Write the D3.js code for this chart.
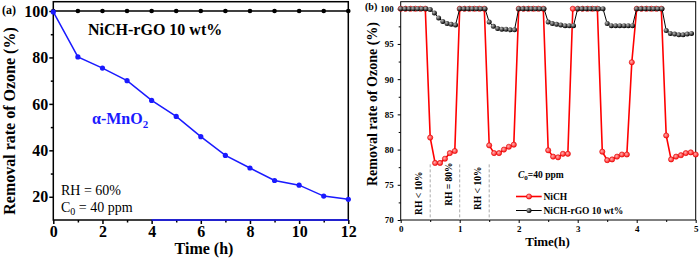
<!DOCTYPE html>
<html><head><meta charset="utf-8">
<script src="https://cdn.jsdelivr.net/npm/d3@7"></script>
<style>body{margin:0;background:#fff}svg{display:block}text{font-family:"Liberation Serif","Times New Roman",serif}</style>
</head><body><svg id="c" width="699" height="261"></svg>
<script>
// ---------- Panel (a) data ----------
const hoursA = [0,1,2,3,4,5,6,7,8,9,10,11,12];
const mno2 = [99.6,80.2,75.4,70.0,61.5,54.6,45.9,37.8,32.4,27.0,25.0,20.3,18.9];
const nichRgoA = [100,100,100,100,100,100,100,100,100,100,100,100,100];
const xTicksA = [0,2,4,6,8,10,12];
const xMinorA = [1,3,5,7,9,11];
const yTicksA = [20,40,60,80,100];
const yMinorA = [30,50,70,90];

// ---------- Panel (b) data ----------
const timeRgo = [0,0.071,0.143,0.214,0.286,0.357,0.429,0.5,0.571,0.643,0.714,0.786,0.857,0.929,
  1,1.071,1.143,1.214,1.286,1.357,1.429,1.5,1.571,1.643,1.714,1.786,1.857,1.929,
  2,2.071,2.143,2.214,2.286,2.357,2.429,2.5,2.571,2.643,2.714,2.786,2.857,2.929,
  3,3.071,3.143,3.214,3.286,3.357,3.429,3.5,3.571,3.643,3.714,3.786,3.857,3.929,
  4,4.071,4.143,4.214,4.286,4.357,4.429,4.5,4.571,4.643,4.714,4.786,4.857,4.929];
const nichRgoB = [100,100,100,100,100,100,100, 99.9,99.4,98.7,98.2,97.9,97.8,97.7,
  100,100,100,100,100,100,100, 98.1,97.5,97.2,97.1,97.1,97.0,97.0,
  100,100,100,100,100,100,100, 98.1,97.9,97.8,97.7,97.6,97.6,97.6,
  100,100,100,100,100,100,100, 97.9,97.6,97.6,97.6,97.6,97.6,97.6,
  100,100,100,100,100,100,100, 96.9,96.5,96.4,96.3,96.3,96.4,96.5];
const timeNich = [0,0.083,0.167,0.25,0.333,0.417,0.5,0.583,0.667,0.75,0.833,0.917,
  1,1.083,1.167,1.25,1.333,1.417,1.5,1.583,1.667,1.75,1.833,1.917,
  2,2.083,2.167,2.25,2.333,2.417,2.5,2.583,2.667,2.75,2.833,2.917,
  3,3.083,3.167,3.25,3.333,3.417,3.5,3.583,3.667,3.75,3.833,3.917,
  4,4.083,4.167,4.25,4.333,4.417,4.5,4.583,4.667,4.75,4.833,4.917,5];
const nichB = [100,100,100,100,100,100, 81.7,78.1,78.1,78.7,79.5,79.8,
  100,100,100,100,100,100, 80.6,79.5,79.5,80.0,80.4,80.7,
  100,100,100,100,100,100, 79.9,79.0,78.9,79.4,79.4, 100,
  100,100,100,100,100, 79.7,78.5,78.6,79.0,79.3,79.3, 92.4,
  100,100,100,100,100,100, 82.0,78.6,79.0,79.2,79.5,79.6,79.3];
const xTicksB = [0,1,2,3,4,5];
const xMinorB = [0.5,1.5,2.5,3.5,4.5];
const yTicksB = [70,75,80,85,90,95,100];
const yMinorB = [72.5,77.5,82.5,87.5,92.5,97.5];
const rhBounds = [0.5,1,1.5];
const rhLabels = ["RH < 10%","RH = 80%","RH < 10%"];

const svg = d3.select("#c");
svg.append("rect").attr("width",699).attr("height",261).attr("fill","#fff");

// ================= Panel (a) =================
const xa = d3.scaleLinear().domain([0,12]).range([53.3,348.3]);
const ya = d3.scaleLinear().domain([10,104]).range([220,1.7]);
const ga = svg.append("g");

function styleAxis(g, fs, sw){
  g.select(".domain").remove();
  g.selectAll("line").attr("stroke","#000").attr("stroke-width",sw);
  g.selectAll("text").attr("font-size",fs).attr("font-weight","bold").attr("fill","#000")
    .attr("font-family",'"Liberation Serif","Times New Roman",serif');
}
let ax;
ax = ga.append("g").attr("transform",`translate(0,${ya(10)})`)
  .call(d3.axisBottom(xa).tickValues(xTicksA).tickSize(4).tickPadding(2).tickFormat(d3.format("d")));
styleAxis(ax,16,1.5);
ax = ga.append("g").attr("transform",`translate(0,${ya(10)})`)
  .call(d3.axisBottom(xa).tickValues(xMinorA).tickSize(2.5).tickFormat(""));
styleAxis(ax,16,1.5);
ax = ga.append("g").attr("transform",`translate(${xa(0)},0)`)
  .call(d3.axisLeft(ya).tickValues(yTicksA).tickSize(4).tickPadding(1).tickFormat(d3.format("d")));
styleAxis(ax,16,1.5);
ax = ga.append("g").attr("transform",`translate(${xa(0)},0)`)
  .call(d3.axisLeft(ya).tickValues(yMinorA).tickSize(2.5).tickFormat(""));
styleAxis(ax,16,1.5);

ga.append("rect").attr("x",xa(0)).attr("y",ya(104)).attr("width",xa(12)-xa(0)).attr("height",ya(10)-ya(104))
  .attr("fill","none").attr("stroke","#000").attr("stroke-width",1.5);
// blue stretch along the bottom axis
ga.append("line").attr("x1",xa(4)).attr("x2",xa(12)).attr("y1",ya(10)).attr("y2",ya(10))
  .attr("stroke","#1a1aff").attr("stroke-width",1.5);

const lineA = d3.line().x((d,i)=>xa(hoursA[i])).y(d=>ya(d));
ga.append("path").datum(nichRgoA).attr("d",lineA).attr("fill","none").attr("stroke","#000").attr("stroke-width",1.5);
ga.selectAll(".bdot").data(nichRgoA).enter().append("circle").attr("cx",(d,i)=>xa(hoursA[i])).attr("cy",d=>ya(d)).attr("r",2.3).attr("fill","#000");
ga.append("path").datum(mno2).attr("d",lineA).attr("fill","none").attr("stroke","#1a1aff").attr("stroke-width",1.5);
ga.selectAll(".mdot").data(mno2).enter().append("circle").attr("cx",(d,i)=>xa(hoursA[i])).attr("cy",d=>ya(d)).attr("r",2.6).attr("fill","#1a1aff");

ga.append("text").attr("x",2).attr("y",14).attr("font-size",12).attr("font-weight","bold").text("(a)");
ga.append("text").attr("transform","translate(15,121) rotate(-90)").attr("text-anchor","middle")
  .attr("font-size",16).attr("font-weight","bold").text("Removal rate of Ozone (%)");
ga.append("text").attr("x",204).attr("y",254).attr("text-anchor","middle")
  .attr("font-size",16).attr("font-weight","bold").text("Time (h)");
ga.append("text").attr("x",88).attr("y",35).attr("font-size",16).attr("font-weight","bold").text("NiCH-rGO 10 wt%");
const mt = ga.append("text").attr("x",92).attr("y",124).attr("font-size",16).attr("font-weight","bold").attr("fill","#1a1aff");
mt.append("tspan").text("α-MnO");
mt.append("tspan").attr("font-size",11).attr("dy",4).text("2");
ga.append("text").attr("x",61).attr("y",195).attr("font-size",14).text("RH = 60%");
const ct = ga.append("text").attr("x",61).attr("y",212).attr("font-size",14);
ct.append("tspan").text("C");
ct.append("tspan").attr("font-size",10).attr("dy",3).text("0");
ct.append("tspan").attr("dy",-3).text(" = 40 ppm");

// ================= Panel (b) =================
const xb = d3.scaleLinear().domain([0,5]).range([400.7,695.7]);
const yb = d3.scaleLinear().domain([70,101]).range([220,1.7]);
const gb = svg.append("g");

const defs = svg.append("defs");
const gR = defs.append("radialGradient").attr("id","gR").attr("cx","40%").attr("cy","40%").attr("r","60%");
gR.append("stop").attr("offset","0%").attr("stop-color","#ffb0b0");
gR.append("stop").attr("offset","100%").attr("stop-color","#ff1a1a");
const gK = defs.append("radialGradient").attr("id","gK").attr("cx","35%").attr("cy","35%").attr("r","65%");
gK.append("stop").attr("offset","0%").attr("stop-color","#bbbbbb");
gK.append("stop").attr("offset","100%").attr("stop-color","#000");

ax = gb.append("g").attr("transform",`translate(0,${yb(70)})`)
  .call(d3.axisBottom(xb).tickValues(xTicksB).tickSize(3).tickPadding(3).tickFormat(d3.format("d")));
styleAxis(ax,9,1);
ax = gb.append("g").attr("transform",`translate(0,${yb(70)})`)
  .call(d3.axisBottom(xb).tickValues(xMinorB).tickSize(2).tickFormat(""));
styleAxis(ax,9,1);
ax = gb.append("g").attr("transform",`translate(${xb(0)},0)`)
  .call(d3.axisLeft(yb).tickValues(yTicksB).tickSize(3).tickPadding(4).tickFormat(d3.format("d")));
styleAxis(ax,9,1);
ax = gb.append("g").attr("transform",`translate(${xb(0)},0)`)
  .call(d3.axisLeft(yb).tickValues(yMinorB).tickSize(2).tickFormat(""));
styleAxis(ax,9,1);
gb.append("rect").attr("x",xb(0)).attr("y",yb(101)).attr("width",xb(5)-xb(0)).attr("height",yb(70)-yb(101))
  .attr("fill","none").attr("stroke","#000").attr("stroke-width",1);

// dashed RH boundaries
gb.selectAll(".rh").data(rhBounds).enter().append("line")
  .attr("x1",d=>xb(d)).attr("x2",d=>xb(d)).attr("y1",yb(77.9)).attr("y2",yb(70))
  .attr("stroke","#aaa").attr("stroke-width",1).attr("stroke-dasharray","3,2");
const rhPos = [[0.3,73.8],[0.81,75.1],[1.3,74.5]];
gb.selectAll(".rht").data(rhLabels).enter().append("text")
  .attr("transform",(d,i)=>`translate(${xb(rhPos[i][0])},${yb(rhPos[i][1])}) rotate(-90)`)
  .attr("text-anchor","middle").attr("dy","0.35em").attr("font-size",9.5).attr("font-weight","bold").text(d=>d);

const lineR = d3.line().x((d,i)=>xb(timeNich[i])).y(d=>yb(d));
gb.append("path").datum(nichB).attr("d",lineR).attr("fill","none").attr("stroke","#ff0000").attr("stroke-width",1.6);
gb.selectAll(".rdot").data(nichB).enter().append("circle").attr("cx",(d,i)=>xb(timeNich[i])).attr("cy",d=>yb(d))
  .attr("r",2.6).attr("fill","url(#gR)").attr("stroke","#e00000").attr("stroke-width",0.6);
const lineK = d3.line().x((d,i)=>xb(timeRgo[i])).y(d=>yb(d));
gb.append("path").datum(nichRgoB).attr("d",lineK).attr("fill","none").attr("stroke","#000").attr("stroke-width",1);
gb.selectAll(".kdot").data(nichRgoB).enter().append("circle").attr("cx",(d,i)=>xb(timeRgo[i])).attr("cy",d=>yb(d))
  .attr("r",2.5).attr("fill","url(#gK)");

// legend
const c0 = gb.append("text").attr("x",518).attr("y",178).attr("font-size",9.5).attr("font-weight","bold");
c0.append("tspan").attr("font-style","italic").text("C");
c0.append("tspan").attr("font-size",7).attr("dy",2).text("0");
c0.append("tspan").attr("dy",-2).text("=40 ppm");
gb.append("line").attr("x1",516).attr("x2",541.7).attr("y1",196.5).attr("y2",196.5).attr("stroke","#ff0000").attr("stroke-width",1.6);
gb.append("circle").attr("cx",529).attr("cy",196.5).attr("r",2.6).attr("fill","url(#gR)").attr("stroke","#e00000").attr("stroke-width",0.6);
gb.append("text").attr("x",543.5).attr("y",199.8).attr("font-size",9.5).attr("font-weight","bold").text("NiCH");
gb.append("line").attr("x1",516).attr("x2",541.7).attr("y1",210.5).attr("y2",210.5).attr("stroke","#000").attr("stroke-width",1);
gb.append("circle").attr("cx",529).attr("cy",210.5).attr("r",2.5).attr("fill","url(#gK)");
gb.append("text").attr("x",543.5).attr("y",213.8).attr("font-size",9.5).attr("font-weight","bold").text("NiCH-rGO 10 wt%");

gb.append("text").attr("x",365).attr("y",10).attr("font-size",10).attr("font-weight","bold").text("(b)");
gb.append("text").attr("transform","translate(377,104) rotate(-90)").attr("text-anchor","middle")
  .attr("font-size",14).attr("font-weight","bold").text("Removal rate of Ozone (%)");
gb.append("text").attr("x",547.5).attr("y",246).attr("text-anchor","middle")
  .attr("font-size",13).attr("font-weight","bold").text("Time(h)");
</script></body></html>
